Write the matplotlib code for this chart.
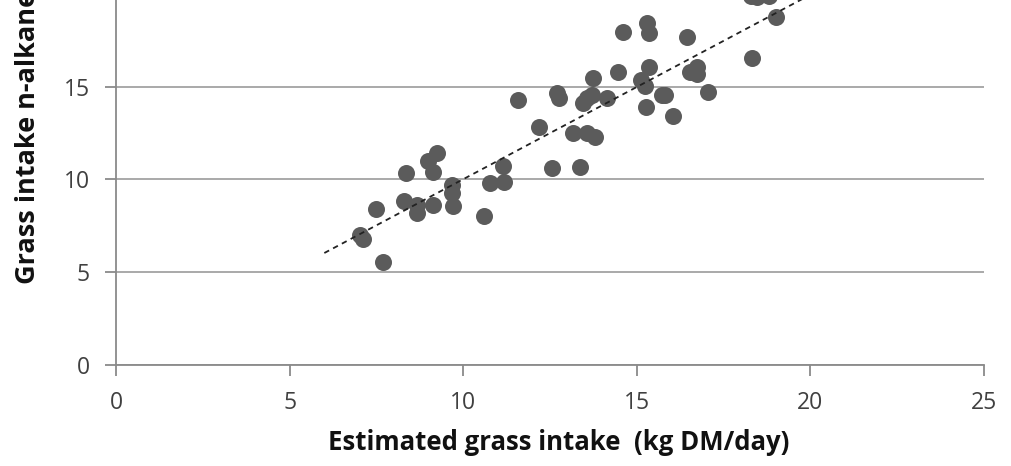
import numpy as np
import matplotlib
matplotlib.use("Agg")
import matplotlib.pyplot as plt

# estimated grass intake (kg DM/day) vs grass intake from n-alkanes
estimated_intake = [7.03, 7.11, 7.49, 7.70, 8.30, 8.36, 8.68, 8.68, 9.00, 9.12,
                    9.12, 9.24, 9.67, 9.67, 9.70, 10.61, 10.78, 11.14, 11.18, 11.59,
                    12.17, 12.55, 12.70, 12.77, 13.16, 13.35, 13.45, 13.56, 13.71, 13.56,
                    13.80, 13.75, 14.14, 14.45, 14.60, 15.29, 15.34, 15.34, 15.12, 15.24,
                    15.27, 15.72, 15.82, 16.04, 16.44, 16.54, 16.73, 16.73, 17.04, 18.32,
                    19.02, 18.30, 18.45, 18.80]
nalkane_intake = [7.00, 6.77, 8.39, 5.57, 8.85, 10.33, 8.62, 8.21, 11.00, 10.42,
                  8.62, 11.40, 9.70, 9.25, 8.57, 8.03, 9.82, 10.72, 9.88, 14.28,
                  12.81, 10.60, 14.67, 14.36, 12.52, 10.69, 14.13, 14.36, 14.55, 12.52,
                  12.27, 15.44, 14.36, 15.76, 17.96, 18.45, 17.87, 16.08, 15.36, 15.03,
                  13.88, 14.55, 14.55, 13.42, 17.69, 15.81, 16.08, 15.68, 14.73, 16.52,
                  18.73, 19.90, 19.85, 19.90]

# linear trendline
trend_slope = 0.994
trend_intercept = 0.07
trend_x = [6.0, 21.0]

x_ticks = [0, 5, 10, 15, 20, 25]
y_ticks = [0, 5, 10, 15]

fig = plt.figure(figsize=(10.11, 4.66), dpi=100)
ax = fig.add_axes([116 / 1011, 1 - 365 / 466, (984 - 116) / 1011, 365 / 466])

ax.set_axisbelow(True)
ax.grid(axis="y", color="#a3a3a3", linewidth=1.3)

ax.scatter(estimated_intake, nalkane_intake, s=150, color="#5b5b5b", zorder=3, linewidths=0)

tx = np.array(trend_x)
ax.plot(tx, trend_slope * tx + trend_intercept, color="#222222", linestyle=(0, (3, 2.5)),
        linewidth=1.3, zorder=4)

ax.set_xlim(0, 25)
ax.set_ylim(0, 365 / 18.56)
ax.set_xticks(x_ticks)
ax.set_yticks(y_ticks)

for s in ["top", "right"]:
    ax.spines[s].set_visible(False)
for s in ["left", "bottom"]:
    ax.spines[s].set_color("#8a8a8a")
    ax.spines[s].set_linewidth(1.3)

ax.tick_params(axis="both", colors="#8a8a8a", length=8, width=1.3, direction="out")
ax.tick_params(axis="x", pad=11)
ax.tick_params(axis="y", pad=11)
for lbl in ax.get_xticklabels() + ax.get_yticklabels():
    lbl.set_color("#404040")
    lbl.set_fontsize(16.5)
    lbl.set_fontfamily("Open Sans")

fig.text(116 / 1011 + (984 - 116) / 1011 * (443 / 868), 1 - 443 / 466,
         "Estimated grass intake  (kg DM/day)", ha="center", va="center",
         fontsize=18.5, fontweight="bold", family="Open Sans", color="#111111")
fig.text(28 / 1011, 1 - 284 / 466, "Grass intake n-alkanes (kg DM/day)", rotation=90,
         ha="center", va="bottom", fontsize=19.5, fontweight="bold",
         family="Open Sans", color="#111111")

fig.savefig("out.png", dpi=100)
